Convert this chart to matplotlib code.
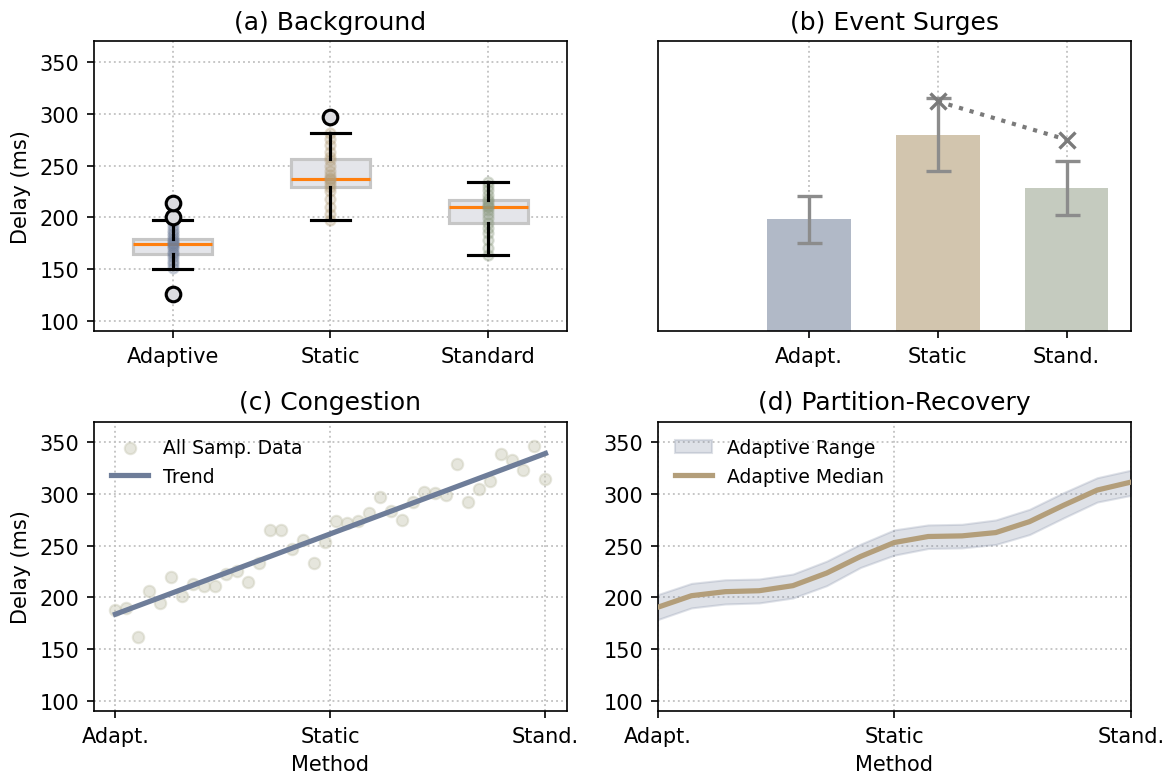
import numpy as np
import matplotlib
matplotlib.use("Agg")
import matplotlib.pyplot as plt

# (a) Background - box summaries
box_labels   = ["Adaptive", "Static", "Standard"]
box_q1       = [165, 229, 195]
box_median   = [174, 237, 210]
box_q3       = [179, 256, 217]
box_whis_lo  = [150, 197, 164]
box_whis_hi  = [197, 281, 234]
box_fliers   = [[126, 200, 214], [297], []]

adaptive_samples = [126, 151, 155, 158, 162, 165, 167, 170, 172, 174, 175, 177, 179, 182, 185, 188, 192, 196, 200, 214]
static_samples   = [197, 203, 210, 218, 225, 229, 232, 235, 237, 238, 241, 245, 250, 255, 258, 263, 270, 276, 281, 297]
standard_samples = [164, 170, 178, 185, 190, 195, 199, 203, 207, 210, 211, 213, 216, 218, 222, 226, 230, 234]

# (b) Event Surges
short_labels  = ["Adapt.", "Static", "Stand."]
surge_means   = [198, 280, 228]
surge_errors  = [23, 35, 26]
surge_peaks   = [312, 275]  # Static, Stand.

# (c) Congestion - 40 samples spread from Adapt. to Stand.
congestion_delay = [188, 190, 162, 206, 195, 220, 201, 213, 211, 211,
                    223, 226, 215, 233, 265, 265, 247, 256, 233, 254,
                    274, 272, 274, 282, 297, 284, 275, 292, 302, 301,
                    299, 329, 292, 305, 313, 339, 333, 323, 346, 314]

# (d) Partition-Recovery - 15 steps from Adapt. to Stand.
recovery_median = [190.5, 201.7, 205.6, 206.5, 211.4, 223.6, 239.6, 253.1,
                   258.9, 259.5, 262.7, 273.3, 289.0, 303.8, 311.5]
recovery_lower  = [178.6, 189.9, 193.7, 194.7, 199.5, 211.4, 229.0, 240.9,
                   247.3, 247.9, 251.2, 260.8, 276.8, 292.2, 298.7]
recovery_upper  = [202.7, 213.6, 217.1, 217.8, 222.6, 235.1, 251.5, 265.3,
                   270.1, 270.7, 274.9, 285.2, 301.2, 315.7, 323.0]

group_colors = ["#6e7d99", "#b39e7a", "#8c9a80"]
bar_colors   = ["#b1b9c7", "#d2c5ae", "#c5cbbf"]
grid_kw      = dict(linestyle=":", color="#c4c4c4", linewidth=0.9)
y_limits     = (90, 370)
y_ticks      = [100, 150, 200, 250, 300, 350]

fig = plt.figure(figsize=(7.8, 5.1733), dpi=150)
ax_a = fig.add_axes([0.0803, 0.5718, 0.4043, 0.3737])
ax_b = fig.add_axes([0.5621, 0.5718, 0.4046, 0.3737])
ax_c = fig.add_axes([0.0803, 0.0821, 0.4043, 0.3734])
ax_d = fig.add_axes([0.5621, 0.0821, 0.4046, 0.3734])

# ---- (a) box plot with sample strips
stats = []
for i, label in enumerate(box_labels):
    stats.append({
        "label": label,
        "med": box_median[i],
        "q1": box_q1[i],
        "q3": box_q3[i],
        "whislo": box_whis_lo[i],
        "whishi": box_whis_hi[i],
        "fliers": box_fliers[i],
    })
ax_a.bxp(stats, positions=[1, 2, 3], widths=0.5, patch_artist=True,
         boxprops=dict(facecolor="#e4e5ea", edgecolor="#c6c6c6", linewidth=1.5, zorder=2),
         medianprops=dict(color="#ff7f0e", linewidth=1.5, zorder=2.2),
         whiskerprops=dict(color="black", linewidth=1.5, zorder=3),
         capprops=dict(color="black", linewidth=1.5, zorder=3),
         flierprops=dict(marker="o", markerfacecolor="#dcdce0", markeredgecolor="black",
                         markeredgewidth=1.5, markersize=7, zorder=4))
for pos, samples, color in zip([1, 2, 3], [adaptive_samples, static_samples, standard_samples], group_colors):
    ax_a.scatter(np.full(len(samples), pos), samples, s=24, color=color, alpha=0.3, zorder=2.5)
ax_a.set_xlim(0.5, 3.5)
ax_a.set_ylim(*y_limits)
ax_a.set_yticks(y_ticks)
ax_a.set_ylabel("Delay (ms)")
ax_a.set_title("(a) Background")
ax_a.grid(True, **grid_kw)
ax_a.set_axisbelow(True)

# ---- (b) bars with error bars and surge peaks
x_b = np.arange(len(short_labels))
ax_b.bar(x_b, surge_means, width=0.65, color=bar_colors, zorder=2)
ax_b.errorbar(x_b, surge_means, yerr=surge_errors, fmt="none", ecolor="#8c8c8c",
              elinewidth=1.6, capsize=6, capthick=1.6, zorder=3)
ax_b.plot(x_b[1:], surge_peaks, linestyle=":", marker="x", color="#7a7a7a",
          linewidth=2, markersize=8, markeredgewidth=1.6, zorder=4)
ax_b.set_xticks(x_b)
ax_b.set_xticklabels(short_labels)
ax_b.set_xlim(-1.175, 2.5)
ax_b.set_ylim(*y_limits)
ax_b.set_yticks([])
ax_b.set_title("(b) Event Surges")
ax_b.grid(True, axis="x", **grid_kw)
ax_b.set_axisbelow(True)

# ---- (c) scatter with linear trend
x_c = np.linspace(0, 2, len(congestion_delay))
ax_c.scatter(x_c, congestion_delay, s=30, color="#c9c9b5", alpha=0.45, label="All Samp. Data", zorder=2)
slope, intercept = np.polyfit(x_c, congestion_delay, 1)
ax_c.plot(x_c, slope * x_c + intercept, color=group_colors[0], linewidth=2.5, label="Trend", zorder=3)
ax_c.set_xticks([0, 1, 2])
ax_c.set_xticklabels(short_labels)
ax_c.set_ylim(*y_limits)
ax_c.set_yticks(y_ticks)
ax_c.set_ylabel("Delay (ms)")
ax_c.set_xlabel("Method")
ax_c.set_title("(c) Congestion")
ax_c.grid(True, **grid_kw)
ax_c.set_axisbelow(True)
ax_c.legend(loc="upper left", frameon=False, fontsize=9)

# ---- (d) median with range band
x_d = np.linspace(0, 2, len(recovery_median))
ax_d.fill_between(x_d, recovery_lower, recovery_upper, color="#7f8aa3", alpha=0.25,
                  linewidth=1, label="Adaptive Range", zorder=2)
ax_d.plot(x_d, recovery_median, color=group_colors[1], linewidth=2.5, label="Adaptive Median", zorder=3)
ax_d.set_xlim(0, 2)
ax_d.set_xticks([0, 1, 2])
ax_d.set_xticklabels(short_labels)
ax_d.set_ylim(*y_limits)
ax_d.set_yticks(y_ticks)
ax_d.set_xlabel("Method")
ax_d.set_title("(d) Partition-Recovery")
ax_d.grid(True, **grid_kw)
ax_d.set_axisbelow(True)
ax_d.legend(loc="upper left", frameon=False, fontsize=9)

fig.savefig("out.png", dpi=150)
